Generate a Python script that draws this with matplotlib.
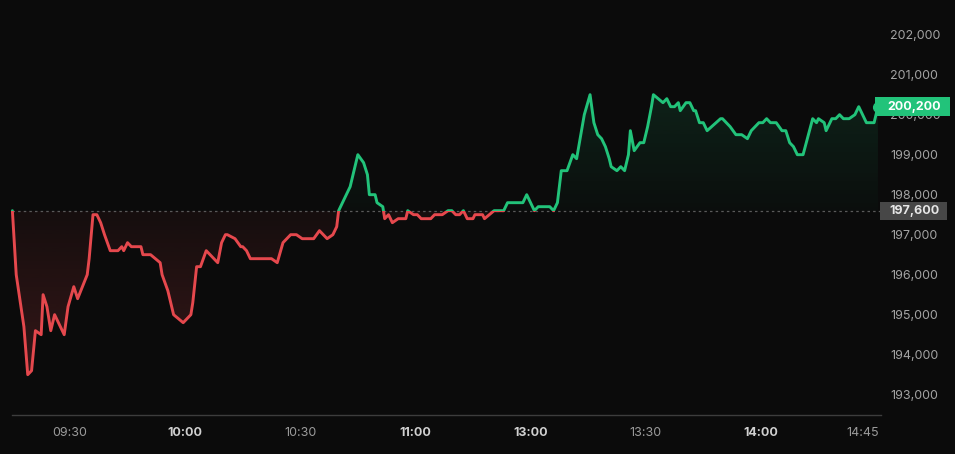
import matplotlib
matplotlib.use("Agg")
import matplotlib.pyplot as plt
import matplotlib.colors as mcolors
import numpy as np
from matplotlib.path import Path
from matplotlib.patches import Rectangle
from matplotlib.transforms import blended_transform_factory

# session minutes from 09:15, lunch break collapsed (11:30 == 13:00)
minutes = [
    0, 1, 3, 4, 5, 6, 7.5, 8, 9, 10, 11, 13.5, 14.5, 16, 17, 19.5, 20, 21, 22, 23,
    24, 25.5, 27.5, 28.5, 29, 30, 31, 33.5, 34, 36, 38.5, 39, 40.5, 41, 42, 44.5,
    46.5, 47, 48, 49, 50.5, 53.5, 54.5, 55.5, 56, 58, 59.5, 60, 61, 62, 67.5, 69,
    70.5, 72.5, 74, 75.5, 78.5, 80, 82, 83.5, 84.5, 85, 88, 90, 91.5, 92.5, 93,
    94.5, 95, 96.5, 97, 98, 99, 100.5, 102.5, 103, 104.5, 105.5, 106.5, 109, 110,
    112, 113.5, 114.5, 115.5, 116.5, 117.5, 118.5, 120, 120.5, 122.5, 123, 125.5,
    128, 129, 133, 134, 136, 137, 140, 141, 142, 143, 144.5, 146, 147, 149, 150.5,
    151.5, 152.5, 153.5, 154.5, 155.5, 156, 157.5, 158.5, 159.5, 160.5, 161, 162,
    163.5, 164.5, 165.5, 166.5, 167, 169.5, 170.5, 171.5, 172.5, 173.5, 174, 175.5,
    176.5, 177.5, 178, 179, 180, 181, 184.5, 185, 187, 188.5, 190, 191.5, 192.5,
    194.5, 195.5, 196.5, 197.5, 199, 200.5, 201.5, 202.5, 203.5, 204.5, 206, 208.5,
    209.5, 210, 211.5, 212, 213.5, 214.5, 215.5, 216.5, 218, 219.5, 220.5, 222.5,
    224.5, 225.5,
]
prices = [
    197600, 196000, 194700, 193500, 193600, 194600, 194500, 195500, 195200, 194600,
    195000, 194500, 195200, 195700, 195400, 196000, 196400, 197500, 197500, 197300,
    197000, 196600, 196600, 196700, 196600, 196800, 196700, 196700, 196500, 196500,
    196300, 196000, 195600, 195400, 195000, 194800, 195000, 195300, 196200, 196200,
    196600, 196300, 196800, 197000, 197000, 196900, 196700, 196700, 196600, 196400,
    196400, 196300, 196800, 197000, 197000, 196900, 196900, 197100, 196900, 197000,
    197200, 197600, 198200, 199000, 198800, 198500, 198000, 198000, 197800, 197700,
    197400, 197500, 197300, 197400, 197400, 197600, 197500, 197500, 197400, 197400,
    197500, 197500, 197600, 197600, 197500, 197500, 197600, 197400, 197400, 197500,
    197500, 197400, 197600, 197600, 197800, 197800, 198000, 197600, 197700, 197700,
    197600, 197800, 198600, 198600, 199000, 198900, 200000, 200500, 199800, 199500,
    199400, 199200, 198900, 198700, 198600, 198700, 198600, 199000, 199600, 199100,
    199300, 199300, 199700, 200200, 200500, 200300, 200400, 200200, 200200, 200300,
    200100, 200300, 200300, 200100, 200100, 199800, 199800, 199600, 199900, 199900,
    199700, 199500, 199500, 199400, 199600, 199800, 199800, 199900, 199800, 199800,
    199600, 199600, 199300, 199200, 199000, 199000, 199900, 199800, 199900, 199800,
    199600, 199900, 199900, 200000, 199900, 199900, 200000, 200200, 199800, 199800,
    200200,
]
base_price = 197600
tick_pos = [15, 45, 75, 105, 135, 165, 195, 221.5]
tick_labels = ["09:30", "10:00", "10:30", "11:00", "13:00", "13:30", "14:00", "14:45"]
bold_labels = {"10:00", "11:00", "13:00", "14:00"}
price_ticks = list(range(193000, 203000, 1000))

BG = "#0b0b0b"
UP = "#22c37a"
DOWN = "#e5484d"

plt.rcParams["font.family"] = ["Inter", "DejaVu Sans"]

fig = plt.figure(figsize=(9.55, 4.54), dpi=100, facecolor=BG)
ax = fig.add_axes([12 / 955, 39 / 454, 869 / 955, 405 / 454])
ax.set_facecolor(BG)

x = np.array(minutes, dtype=float)
y = np.array(prices, dtype=float)
last_price = prices[-1]
xlim = (-0.1, 226.3)
ylim = (192492, 202617)


def gradient_fill(above, color, a_near, a_far, far):
    where = y >= base_price if above else y <= base_price
    coll = ax.fill_between(x, y, base_price, where=where, interpolate=True,
                           facecolor="none", edgecolor="none")
    path = Path.make_compound_path(*coll.get_paths())
    rgba = np.zeros((256, 1, 4))
    rgba[..., :3] = mcolors.to_rgb(color)
    lo, hi = (base_price, far) if above else (far, base_price)
    alphas = np.linspace(a_near, a_far, 256) if above else np.linspace(a_far, a_near, 256)
    rgba[:, 0, 3] = alphas
    img = ax.imshow(rgba, extent=[xlim[0], xlim[1], lo, hi], origin="lower",
                    aspect="auto", interpolation="bilinear", zorder=1)
    img.set_clip_path(path, transform=ax.transData)


gradient_fill(True, UP, 0.02, 0.13, 200600)
gradient_fill(False, DOWN, 0.05, 0.2, 193400)

ax.axhline(base_price, color="#5a5a5a", lw=0.9, ls=(0, (2, 2.5)), zorder=2)

for color, above in [(UP, True), (DOWN, False)]:
    line, = ax.plot(x, y, color=color, lw=2.1, solid_joinstyle="round",
                    solid_capstyle="round", zorder=3)
    y0 = base_price if above else base_price - 1e5
    clip = Rectangle((xlim[0] - 10, y0), xlim[1] - xlim[0] + 20, 1e5)
    clip.set_transform(ax.transData)
    line.set_clip_path(clip)

ax.plot(x[-1], y[-1], "o", ms=7, color=UP, zorder=5, clip_on=False)

ax.set_xlim(*xlim)
ax.set_ylim(*ylim)
ax.autoscale(False)

# price badges on the right
trans = blended_transform_factory(fig.transFigure, ax.transData)
ax.add_patch(Rectangle((875 / 955, last_price - 237), 75 / 955, 475, transform=trans,
                       facecolor=UP, edgecolor="none", zorder=6, clip_on=False))
ax.text(914 / 955, last_price, f"{last_price:,}", transform=trans, ha="center",
        va="center", color="white", fontsize=9, fontweight="bold", zorder=7, clip_on=False)
ax.add_patch(Rectangle((880 / 955, base_price - 237), 67 / 955, 462, transform=trans,
                       facecolor="#474747", edgecolor="none", zorder=6, clip_on=False))
ax.text(914 / 955, base_price, f"{base_price:,}", transform=trans, ha="center",
        va="center", color="#e6e6e6", fontsize=9, fontweight="bold", zorder=7, clip_on=False)

ax.yaxis.tick_right()
ax.set_yticks(price_ticks, [f"{v:,}" for v in price_ticks])
ax.tick_params(axis="y", length=0, pad=6.5, labelsize=9, labelcolor="#a3a3a3")

ax.set_xticks(tick_pos, tick_labels)
ax.tick_params(axis="x", length=0, pad=9, labelsize=9, labelcolor="#9b9b9b")
for lbl in ax.get_xticklabels():
    if lbl.get_text() in bold_labels:
        lbl.set_fontweight("bold")
        lbl.set_color("#d0d0d0")

for side in ["top", "left", "right"]:
    ax.spines[side].set_visible(False)
ax.spines["bottom"].set_color("#3d3d3d")
ax.spines["bottom"].set_linewidth(1)

fig.savefig("out.png", dpi=100, facecolor=BG)
plt.close(fig)
